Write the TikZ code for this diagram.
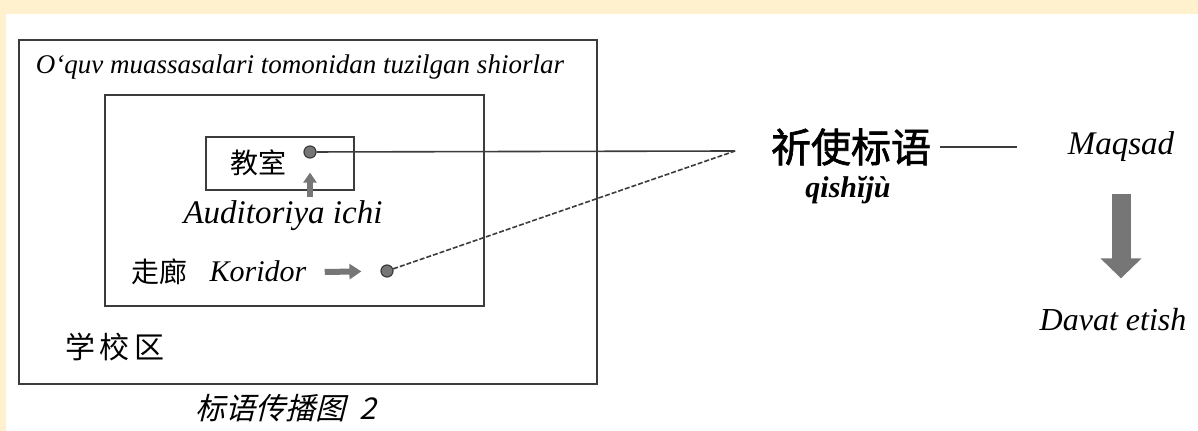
\documentclass[tikz,border=0pt]{standalone}
\usepackage{fontspec}
\setmainfont{Liberation Serif}
\newfontfamily\cjk{Noto Sans CJK SC}
\newfontfamily\cjkheavy[FakeBold=1.6]{Noto Sans CJK SC}
\newfontfamily\cjkslant[FakeSlant=0.25]{Noto Sans CJK SC}
\usetikzlibrary{arrows.meta,positioning}
\definecolor{slpaper}{RGB}{255,241,206}
\definecolor{slline}{RGB}{60,60,60}
\definecolor{slgray}{RGB}{118,118,118}

\begin{document}
\begin{tikzpicture}[x=0.5pt, y=-0.5pt,
  frame/.style={draw=slline, line width=1pt, inner sep=0pt},
  lbl/.style={font=\itshape\fontsize{15}{17}\selectfont, inner sep=1pt},
  han/.style={font=\cjk\fontsize{14}{16}\selectfont, inner sep=1pt},
  dot/.style={circle, fill=slgray, draw=slline, line width=0.6pt,
              minimum size=6pt, inner sep=0pt},
  link/.style={slline, line width=0.8pt},
  small arr/.style={slgray, line width=2.6pt,
                    -{Triangle[length=5pt, width=6.5pt]}}
]
% page
\fill[slpaper] (0,0) rectangle (1198,431);
\fill[white] (6,14) rectangle (1198,431);
\useasboundingbox (0,0) rectangle (1198,431);

% campus, area, classroom
\node[frame, minimum width=289pt, minimum height=172pt] (campus) at (308,212) {};
\node[frame, minimum width=189.5pt, minimum height=105.5pt] (area) at (294.5,200.5) {};
\node[frame, minimum width=74pt, minimum height=26.5pt] (room) at (280,163.5) {};

\node[font=\itshape\fontsize{13.5}{16}\selectfont] (title) at (300,67)
  {O‘quv muassasalari tomonidan tuzilgan shiorlar};
\node[han] (jiaoshi) at (258,163) {教室};
\node[dot] (roomdot) at (310,152) {};
\node[lbl, font=\itshape\fontsize{16.5}{18}\selectfont] (inside) at (283,216) {Auditoriya ichi};
\node[han] (zoulang) at (159,272) {走廊};
\node[lbl] (koridor) at (258,271) {Koridor};
\node[dot] (halldot) at (387,271) {};
\node[han, font=\cjk\fontsize{15}{17}\selectfont] (xiaoqu) at (115,347) {学\,校\,区};
\node[font=\cjkslant\fontsize{15}{17}\selectfont] (caption) at (286,408)
  {标语传播图\ \ \itshape 2};

% slogan type
\node[font=\cjkheavy\fontsize{20}{22}\selectfont] (qishi) at (851,147) {祈使标语};
\node[font=\bfseries\itshape\fontsize{15}{17}\selectfont] (pinyin) at (848,190) {qishĭjù};
\node[lbl, font=\itshape\fontsize{16.5}{18}\selectfont] (maqsad) at (1121,147) {Maqsad};
\node[lbl, font=\itshape\fontsize{16}{18}\selectfont] (davat) at (1113,320) {Davat etish};
\coordinate (meet) at (735,151);

% connectors
\draw[small arr, shorten >=7pt] (inside) ++(27,-19) coordinate (upfoot) -- (roomdot);
\draw[small arr, line width=3pt, shorten >=9.5pt,
      -{Triangle[length=6pt, width=7.5pt]}]
  (koridor.east) ++(16,1) coordinate (hallfoot) -- (halldot);
\draw[link] (roomdot) -- (meet);
\draw[link, dash pattern=on 2.5pt off 1pt] (halldot) -- (meet);
\draw[link, shorten <=1pt, shorten >=24pt] (qishi) -- (maqsad);
\draw[slgray, line width=9.5pt, shorten <=15pt, shorten >=14pt,
      -{Triangle[length=10pt, width=20pt]}]
  (maqsad.south) -- (maqsad.south |- davat.north);
\end{tikzpicture}
\end{document}
